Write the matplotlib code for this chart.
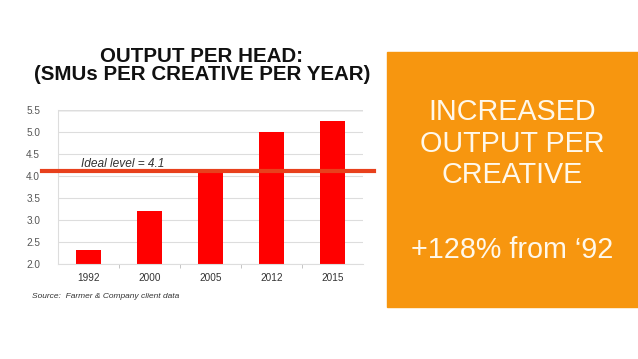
import matplotlib
matplotlib.use("Agg")
import matplotlib.pyplot as plt
from matplotlib.patches import Rectangle

# chart values
years = ["1992", "2000", "2005", "2012", "2015"]
smus_per_creative = [2.3, 3.2, 4.1, 5.0, 5.25]
ideal_level = 4.1
y_ticks = [2.0, 2.5, 3.0, 3.5, 4.0, 4.5, 5.0, 5.5]

plt.rcParams['font.family'] = ['Liberation Sans', 'DejaVu Sans']

W, H = 638, 359
fig = plt.figure(figsize=(W / 100, H / 100), dpi=100)

# chart axes, placed in pixels
ax = fig.add_axes([58.3 / W, 1 - 263.5 / H, 304.7 / W, 154 / H])
x = range(len(years))
ax.bar(x, smus_per_creative, width=0.41, color="#ff0000", zorder=2)
ax.set_xlim(-0.5, len(years) - 0.5)
ax.set_ylim(2.0, 5.5)
ax.set_yticks(y_ticks)
ax.set_yticklabels([f"{v:.1f}" for v in y_ticks])
ax.set_xticks(list(x))
ax.set_xticklabels(years)
ax.set_xticks([i + 0.5 for i in range(len(years) - 1)], minor=True)
ax.tick_params(axis="y", length=0, labelsize=7.2, labelcolor="#555555", pad=13)
ax.tick_params(axis="x", which="major", length=0, labelsize=7.2, labelcolor="#333333", pad=7)
ax.tick_params(axis="x", which="minor", length=3, color="#bbbbbb")
ax.yaxis.grid(True, color="#dddddd", linewidth=0.8, zorder=0)
for side in ["top", "right"]:
    ax.spines[side].set_visible(False)
ax.spines["left"].set_color("#dddddd")
ax.spines["bottom"].set_color("#dddddd")
ax.axhline(5.5, color="#888888", linewidth=0.9, zorder=1)

# ideal level line
ax.axhline(ideal_level, xmin=(42 - 58.3) / 304.7, xmax=(374 - 58.3) / 304.7,
           color="#e8401c", linewidth=3, clip_on=False, zorder=3)
ax.text(-0.135, ideal_level + 0.17, f"Ideal level = {ideal_level}", style="italic",
        fontsize=8.6, color="#333333", va="center")

# title and source
fig.text(202 / W, 1 - 57 / H, "OUTPUT PER HEAD:", ha="center", va="center",
         fontsize=14.8, fontweight="bold", color="#111111")
fig.text(202 / W, 1 - 74.5 / H, "(SMUs PER CREATIVE PER YEAR)", ha="center", va="center",
         fontsize=14.8, fontweight="bold", color="#111111")
fig.text(32 / W, 1 - 296 / H, "Source:  Farmer & Company client data", style="italic",
         fontsize=6, color="#333333", va="center")

# orange call-out box
fig.patches.append(Rectangle((387 / W, 1 - 306.7 / H), 1 - 387 / W, 255 / H,
                             transform=fig.transFigure, color="#f7960f", zorder=0))
for txt, yp in [("INCREASED", 112.5), ("OUTPUT PER", 144), ("CREATIVE", 175.5),
                ("+128% from \u201892", 250.5)]:
    fig.text(512 / W, 1 - yp / H, txt, ha="center", va="center", fontsize=20.7,
             color="#fff8ea")

fig.savefig("out.png", dpi=100)
